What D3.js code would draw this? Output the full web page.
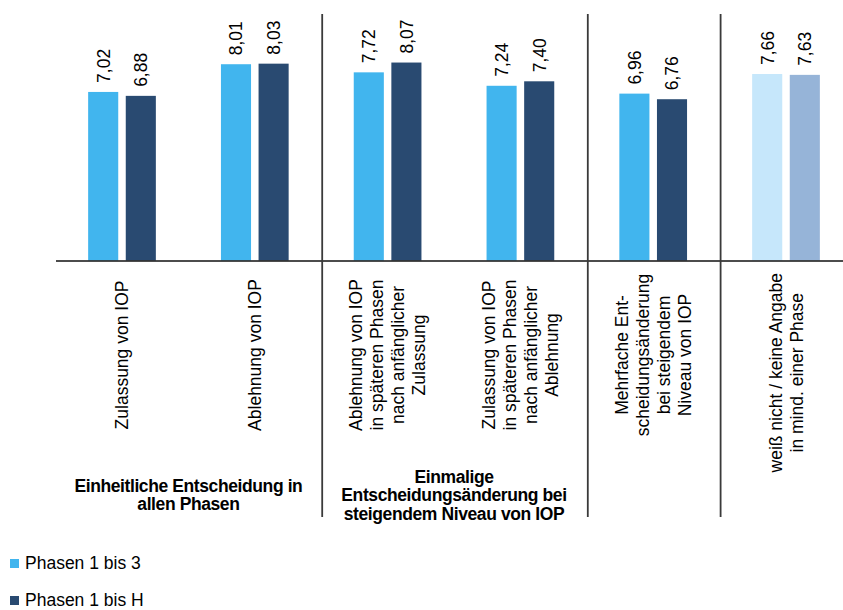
<!DOCTYPE html>
<html>
<head>
<meta charset="utf-8">
<script src="https://cdn.jsdelivr.net/npm/d3@7"></script>
<style>
  html, body { margin: 0; padding: 0; background: #fff; }
  svg { display: block; font-family: "Liberation Sans", Arial, sans-serif; }
</style>
</head>
<body>
<svg id="chart" width="843" height="610"></svg>
<script>
// ---- data ----
const categories = [
  ["Zulassung von IOP"],
  ["Ablehnung von IOP"],
  ["Ablehnung von IOP", "in späteren Phasen", "nach anfänglicher", "Zulassung"],
  ["Zulassung von IOP", "in späteren Phasen", "nach anfänglicher", "Ablehnung"],
  ["Mehrfache Ent-", "scheidungsänderung", "bei steigendem", "Niveau von IOP"],
  ["weiß nicht / keine Angabe", "in mind. einer Phase"]
];
const seriesNames = ["Phasen 1 bis 3", "Phasen 1 bis H"];
const phasen1bis3 = [7.02, 8.01, 7.72, 7.24, 6.96, 7.66];
const phasen1bisH = [6.88, 8.03, 8.07, 7.40, 6.76, 7.63];
const groupLabels = [
  { lines: ["Einheitliche Entscheidung in", "allen Phasen"], from: 0, to: 1 },
  { lines: ["Einmalige", "Entscheidungsänderung bei", "steigendem Niveau von IOP"], from: 2, to: 3 }
];
const separatorsAfter = [1, 3, 4];
const yDomain = [1, 10];

// ---- styles ----
const colors = ["#41B5EE", "#294A71"];
const lastColors = ["#C6E7FB", "#96B4D8"];
const fontSize = 17.5;

const svg = d3.select("#chart");
const catIdx = categories.map((_, i) => i);

const x = d3.scaleBand().domain(catIdx).range([55.6, 852.4]).padding(0);
const xInner = d3.scaleBand().domain([0, 1]).range([-33.85, 33.85]).paddingInner(0.2);
const y = d3.scaleLinear().domain(yDomain).range([260.5, 8.5]);

const data = [];
catIdx.forEach(i => {
  [phasen1bis3[i], phasen1bisH[i]].forEach((v, s) => data.push({ cat: i, s, v }));
});

// bars
svg.append("g").selectAll("rect").data(data).join("rect")
  .attr("x", d => x(d.cat) + x.bandwidth() / 2 + xInner(d.s))
  .attr("y", d => y(d.v))
  .attr("width", xInner.bandwidth())
  .attr("height", d => y(yDomain[0]) - y(d.v))
  .attr("fill", d => d.cat === categories.length - 1 ? lastColors[d.s] : colors[d.s]);

// value labels
const fmt = v => d3.format(".2f")(v).replace(".", ",");
svg.append("g").selectAll("text").data(data).join("text")
  .attr("transform", d => {
    const cx = x(d.cat) + x.bandwidth() / 2 + xInner(d.s) + xInner.bandwidth() / 2;
    return `translate(${cx},${y(d.v) - 9}) rotate(-90)`;
  })
  .attr("dy", "0.36em")
  .attr("text-anchor", "start")
  .attr("font-size", fontSize)
  .attr("fill", "#000")
  .text(d => fmt(d.v));

// baseline
svg.append("line")
  .attr("x1", 56).attr("x2", 843)
  .attr("y1", y(yDomain[0]) + 0.5).attr("y2", y(yDomain[0]) + 0.5)
  .attr("stroke", "#111").attr("stroke-width", 1.6);

// separators
svg.append("g").selectAll("line").data(separatorsAfter).join("line")
  .attr("x1", d => x(d) + x.bandwidth() + 1).attr("x2", d => x(d) + x.bandwidth() + 1)
  .attr("y1", 14).attr("y2", 517)
  .attr("stroke", "#3a3a3a").attr("stroke-width", 1.8);

// category labels (rotated)
const lineH = 21;
catIdx.forEach(i => {
  const lines = categories[i];
  const cx = x(i) + x.bandwidth() / 2;
  const g = svg.append("g");
  const t = g.append("text")
    .attr("text-anchor", "middle")
    .attr("font-size", fontSize)
    .attr("fill", "#000");
  lines.forEach((ln, k) => {
    t.append("tspan")
      .attr("x", 0)
      .attr("y", (k - (lines.length - 1) / 2) * lineH)
      .attr("dy", "0.36em")
      .text(ln);
  });
  let maxLen = 0;
  t.selectAll("tspan").each(function () { maxLen = Math.max(maxLen, this.getComputedTextLength()); });
  const cy = Math.max(355, 273 + maxLen / 2);
  g.attr("transform", `translate(${cx},${cy}) rotate(-90)`);
});

// group labels
const gLineH = 18.5;
groupLabels.forEach(gl => {
  const cx = (x(gl.from) + x(gl.to) + x.bandwidth()) / 2;
  const t = svg.append("text")
    .attr("text-anchor", "middle")
    .attr("font-size", fontSize)
    .attr("font-weight", "bold")
    .attr("letter-spacing", "-0.4px")
    .attr("fill", "#000");
  gl.lines.forEach((ln, k) => {
    t.append("tspan")
      .attr("x", cx)
      .attr("y", 501 + (k - (gl.lines.length - 1) / 2) * gLineH)
      .text(ln);
  });
});

// legend
const legend = svg.append("g").selectAll("g").data(seriesNames).join("g")
  .attr("transform", (d, i) => `translate(10,${559 + i * 37})`);
legend.append("rect").attr("width", 9).attr("height", 9)
  .attr("fill", (d, i) => colors[i]);
legend.append("text").attr("x", 15).attr("y", 10)
  .attr("font-size", fontSize).attr("fill", "#000")
  .text(d => d);
</script>
</body>
</html>
